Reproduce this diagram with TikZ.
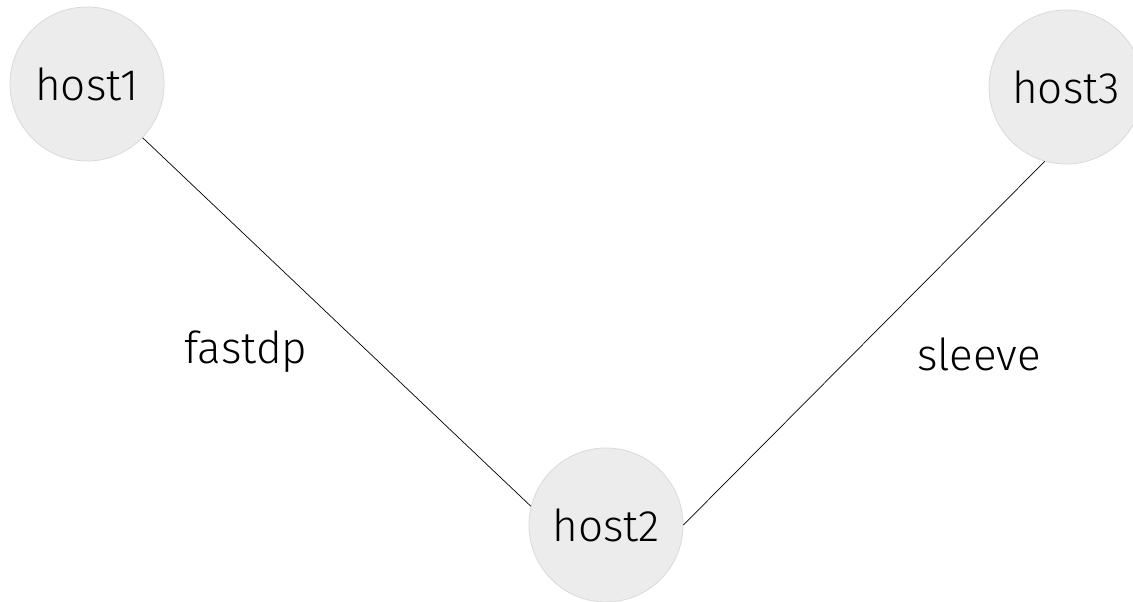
\documentclass[tikz,border=0pt]{standalone}
\usepackage{fontspec}
\setmainfont{Fira Sans Light}
\definecolor{nodefill}{HTML}{ECECEC}
\definecolor{nodeline}{HTML}{DADADA}
\begin{document}
\begin{tikzpicture}[x=1pt,y=-1pt,
  host/.style={circle,fill=nodefill,draw=nodeline,line width=0.8pt,minimum size=154pt,inner sep=0pt,font=\fontsize{44}{48}\selectfont},
  lbl/.style={font=\fontsize{44}{48}\selectfont},
  link/.style={draw=black,line width=0.7pt}]
\useasboundingbox[fill=white] (0,0) rectangle (1133,602);
\node[host] (h1) at (87,84) {host1};
\node[host] (h3) at (1066,87) {host3};
\node[host] (h2) at (606,525) {host2};
\node[lbl] (l1) at (246,352) {fastdp};
\node[lbl] (l2) at (979,354) {sleeve};
\path[link] (h1.-44) -- (h2.166);
\path[link] (h2.0) -- (h3.-106);
\end{tikzpicture}
\end{document}
